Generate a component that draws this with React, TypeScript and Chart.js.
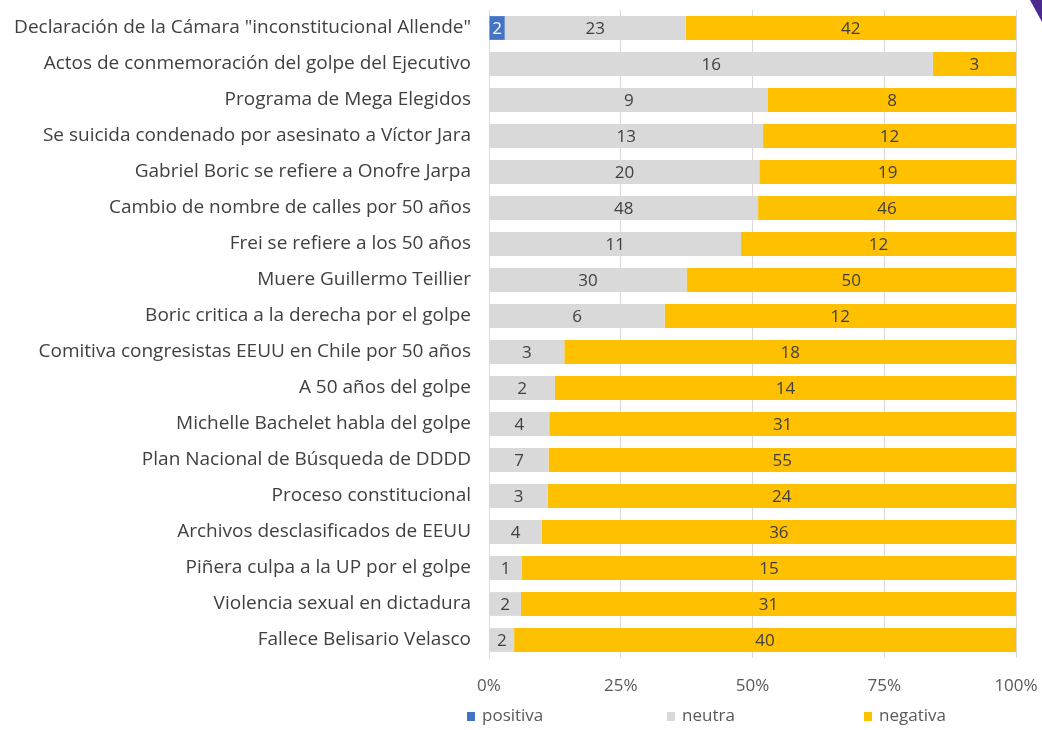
import React, { useEffect, useRef } from "react";
import { Chart, registerables } from "chart.js";

Chart.register(...registerables);

const categories: string[] = [
  'Declaración de la Cámara "inconstitucional Allende"',
  "Actos de conmemoración del golpe del Ejecutivo",
  "Programa de Mega Elegidos",
  "Se suicida condenado por asesinato a Víctor Jara",
  "Gabriel Boric se refiere a Onofre Jarpa",
  "Cambio de nombre de calles por 50 años",
  "Frei se refiere a los 50 años",
  "Muere Guillermo Teillier",
  "Boric critica a la derecha por el golpe",
  "Comitiva congresistas EEUU en Chile por 50 años",
  "A 50 años del golpe",
  "Michelle Bachelet habla del golpe",
  "Plan Nacional de Búsqueda de DDDD",
  "Proceso constitucional",
  "Archivos desclasificados de EEUU",
  "Piñera culpa a la UP por el golpe",
  "Violencia sexual en dictadura",
  "Fallece Belisario Velasco",
];

const positiva: number[] = [2, 0, 0, 0, 0, 0, 0, 0, 0, 0, 0, 0, 0, 0, 0, 0, 0, 0];
const neutra: number[] = [23, 16, 9, 13, 20, 48, 11, 30, 6, 3, 2, 4, 7, 3, 4, 1, 2, 2];
const negativa: number[] = [42, 3, 8, 12, 19, 46, 12, 50, 12, 18, 14, 31, 55, 24, 36, 15, 31, 40];

const seriesNames: string[] = ["positiva", "neutra", "negativa"];
const seriesColors: string[] = ["#4472C4", "#D9D9D9", "#FFC000"];
const xTicks: number[] = [0, 25, 50, 75, 100];

const FONT = "'Open Sans', Lato, sans-serif";

export default function App() {
  const ref = useRef<HTMLCanvasElement | null>(null);

  useEffect(() => {
    document.body.style.margin = "0";
    const raw = [positiva, neutra, negativa];
    const totals = categories.map((_, i) => positiva[i] + neutra[i] + negativa[i]);
    const pct = raw.map((arr) => arr.map((v, i) => (v / totals[i]) * 100));

    const labelPlugin = {
      id: "segLabels",
      afterDatasetsDraw(chart: any) {
        const ctx = chart.ctx;
        ctx.save();
        ctx.font = `17px ${FONT}`;
        ctx.textAlign = "center";
        ctx.textBaseline = "middle";
        chart.data.datasets.forEach((ds: any, di: number) => {
          const meta = chart.getDatasetMeta(di);
          meta.data.forEach((bar: any, i: number) => {
            const v = raw[di][i];
            if (!v) return;
            const x = (bar.x + bar.base) / 2;
            ctx.fillStyle = di === 0 ? "#ffffff" : "#404040";
            ctx.fillText(String(v), x, bar.y + 1);
          });
        });
        ctx.restore();
      },
    };

    const legendPlugin = {
      id: "customLegend",
      afterDraw(chart: any) {
        const ctx = chart.ctx;
        const xs = [467, 667, 864];
        const y = 716;
        ctx.save();
        ctx.font = `17px ${FONT}`;
        ctx.textBaseline = "middle";
        ctx.textAlign = "left";
        seriesNames.forEach((n, i) => {
          ctx.fillStyle = seriesColors[i];
          ctx.fillRect(xs[i], y - 4, 8, 9);
          ctx.fillStyle = "#595959";
          ctx.fillText(n, xs[i] + 15, y);
        });
        ctx.restore();
      },
    };

    const chart = new Chart(ref.current as HTMLCanvasElement, {
      type: "bar",
      data: {
        labels: categories,
        datasets: seriesNames.map((n, i) => ({
          label: n,
          data: pct[i],
          backgroundColor: seriesColors[i],
          borderWidth: 0,
          barPercentage: 0.66,
          categoryPercentage: 1,
        })),
      },
      options: {
        indexAxis: "y",
        animation: false,
        responsive: false,
        maintainAspectRatio: false,
        layout: { padding: { top: 10, right: 26, left: 0, bottom: 0 } },
        plugins: {
          legend: { display: false },
          tooltip: { enabled: false },
        },
        scales: {
          x: {
            stacked: true,
            min: 0,
            max: 100,
            afterBuildTicks(scale: any) {
              scale.ticks = xTicks.map((v) => ({ value: v }));
            },
            afterFit(scale: any) {
              scale.height = 72;
              scale.paddingLeft = 0;
              scale.paddingRight = 0;
            },
            ticks: {
              callback: (v: any) => `${v}%`,
              color: "#595959",
              font: { family: FONT, size: 17 },
              padding: 18,
              maxRotation: 0,
            },
            grid: { color: "#D9D9D9", drawTicks: false, lineWidth: 1 },
            border: { display: false },
          },
          y: {
            stacked: true,
            afterFit(scale: any) {
              scale.width = 489;
              scale.paddingTop = 0;
              scale.paddingBottom = 0;
            },
            ticks: {
              color: "#404040",
              font: { family: FONT, size: 19 },
              padding: 18,
              autoSkip: false,
            },
            grid: { display: false, drawTicks: false },
            border: { display: false },
          },
        },
      },
      plugins: [labelPlugin, legendPlugin],
    } as any);

    return () => chart.destroy();
  }, []);

  return (
    <div style={{ position: "relative", width: 1042, height: 730, background: "#fff" }}>
      <canvas ref={ref} width={1042} height={730} style={{ display: "block" }} />
      <div
        style={{
          position: "absolute",
          top: 0,
          right: 0,
          width: 12,
          height: 22,
          background: "#4B2B8F",
          clipPath: "polygon(0 0, 100% 0, 100% 100%)",
        }}
      />
    </div>
  );
}
